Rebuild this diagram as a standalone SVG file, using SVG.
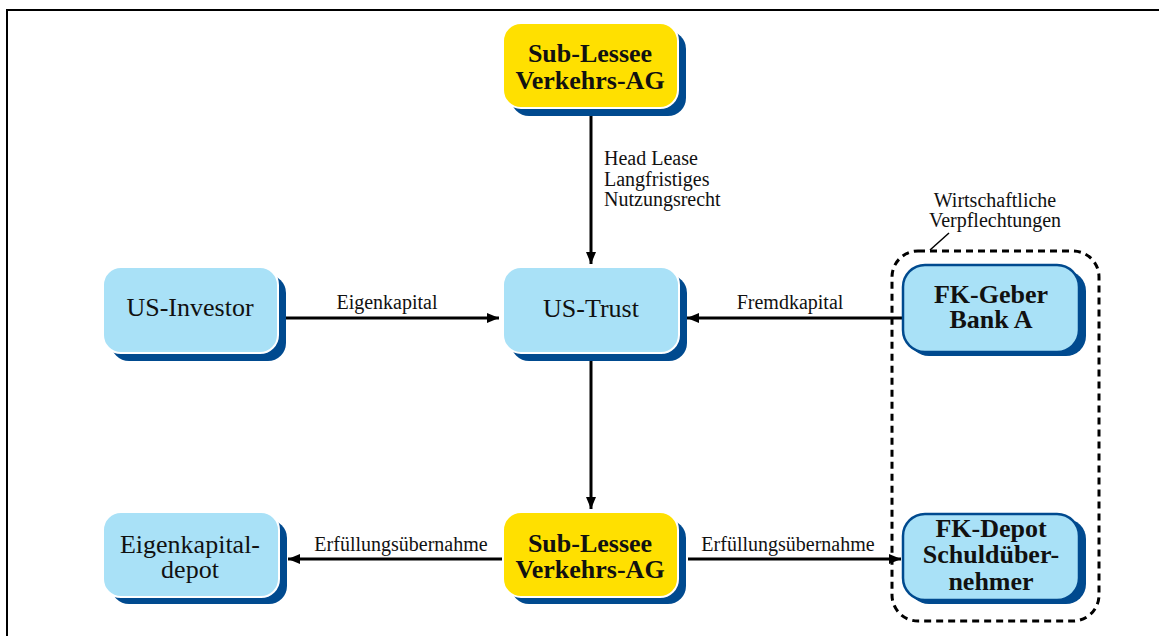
<svg xmlns="http://www.w3.org/2000/svg" width="1159" height="636" viewBox="0 0 1159 636">
  <style>
    .shadow { fill: #004a8f; }
    .blue { fill: #a9e1f7; stroke: #ffffff; stroke-width: 2; }
    .blue-edged { fill: #a9e1f7; stroke: #004a8f; stroke-width: 2.5; }
    .yellow { fill: #ffe000; stroke: #ffffff; stroke-width: 2; }
    .node-text { font-family: "Liberation Serif", "Times New Roman", serif; font-size: 26px; fill: #111111; text-anchor: middle; }
    .bold { font-weight: bold; }
    .label { font-family: "Liberation Serif", "Times New Roman", serif; font-size: 20px; fill: #111111; }
    .mid { text-anchor: middle; }
    .conn { stroke: #000000; stroke-width: 3; fill: none; }
  </style>
  <defs>
    <marker id="arrow" viewBox="0 0 12 10" refX="12" refY="5" markerWidth="12" markerHeight="10" markerUnits="userSpaceOnUse" orient="auto">
      <path d="M0,0 L12,5 L0,10 Z" fill="#000000"/>
    </marker>
  </defs>

  <rect width="1159" height="636" fill="#ffffff"/>
  <!-- frame -->
  <path d="M7,636 V10 H1159" fill="none" stroke="#000000" stroke-width="2"/>

  <!-- grouping of lenders -->
  <g id="verpflechtungen">
    <rect x="892" y="251" width="207" height="370" rx="26" fill="none" stroke="#000000" stroke-width="3" stroke-dasharray="7,5"/>
    <line x1="930" y1="250" x2="949" y2="233" stroke="#000000" stroke-width="1.5"/>
    <text class="label mid" x="995" y="207">Wirtschaftliche</text>
    <text class="label mid" x="995" y="227">Verpflechtungen</text>
  </g>

  <!-- connectors -->
  <g id="connectors">
    <line class="conn" x1="591" y1="116" x2="591" y2="264" marker-end="url(#arrow)"/>
    <text class="label" x="604" y="165">Head Lease</text>
    <text class="label" x="604" y="186">Langfristiges</text>
    <text class="label" x="604" y="206">Nutzungsrecht</text>

    <line class="conn" x1="286" y1="318" x2="499" y2="318" marker-end="url(#arrow)"/>
    <text class="label mid" x="387" y="309">Eigenkapital</text>

    <line class="conn" x1="902" y1="318" x2="687" y2="318" marker-end="url(#arrow)"/>
    <text class="label mid" x="790" y="309">Fremdkapital</text>

    <line class="conn" x1="591" y1="361" x2="591" y2="509" marker-end="url(#arrow)"/>

    <line class="conn" x1="502" y1="559" x2="288" y2="559" marker-end="url(#arrow)"/>
    <text class="label mid" x="401" y="551">Erfüllungsübernahme</text>

    <line class="conn" x1="688" y1="559" x2="901" y2="559" marker-end="url(#arrow)"/>
    <text class="label mid" x="788" y="551">Erfüllungsübernahme</text>
  </g>

  <g id="sub-lessee-top">
    <rect class="shadow" x="511" y="31" width="175" height="85" rx="18"/>
    <rect class="yellow" x="503" y="23" width="175" height="85" rx="18"/>
    <text class="node-text bold" x="590" y="62">Sub-Lessee</text>
    <text class="node-text bold" x="590" y="89">Verkehrs-AG</text>
  </g>

  <g id="us-investor">
    <rect class="shadow" x="111" y="275" width="175" height="86" rx="18"/>
    <rect class="blue" x="103" y="267" width="175" height="86" rx="18"/>
    <text class="node-text" x="190" y="316">US-Investor</text>
  </g>

  <g id="us-trust">
    <rect class="shadow" x="511" y="275" width="176" height="86" rx="18"/>
    <rect class="blue" x="503" y="267" width="176" height="86" rx="18"/>
    <text class="node-text" x="591" y="317">US-Trust</text>
  </g>

  <g id="fk-geber">
    <rect class="shadow" x="909" y="271" width="177" height="85" rx="20"/>
    <rect class="blue-edged" x="903" y="265" width="176" height="87" rx="22"/>
    <text class="node-text bold" x="991" y="303">FK-Geber</text>
    <text class="node-text bold" x="991" y="328">Bank A</text>
  </g>

  <g id="eigenkapitaldepot">
    <rect class="shadow" x="111" y="520" width="176" height="84" rx="18"/>
    <rect class="blue" x="103" y="512" width="176" height="85" rx="18"/>
    <text class="node-text" x="190" y="553">Eigenkapital-</text>
    <text class="node-text" x="190" y="578">depot</text>
  </g>

  <g id="sub-lessee-bottom">
    <rect class="shadow" x="511" y="520" width="175" height="84" rx="18"/>
    <rect class="yellow" x="503" y="512" width="175" height="85" rx="18"/>
    <text class="node-text bold" x="590" y="552">Sub-Lessee</text>
    <text class="node-text bold" x="590" y="578">Verkehrs-AG</text>
  </g>

  <g id="fk-depot">
    <rect class="shadow" x="909" y="519" width="177" height="85" rx="20"/>
    <rect class="blue-edged" x="903" y="514" width="176" height="86" rx="22"/>
    <text class="node-text bold" x="991" y="537">FK-Depot</text>
    <text class="node-text bold" x="991" y="563">Schuldüber-</text>
    <text class="node-text bold" x="991" y="590">nehmer</text>
  </g>
</svg>
